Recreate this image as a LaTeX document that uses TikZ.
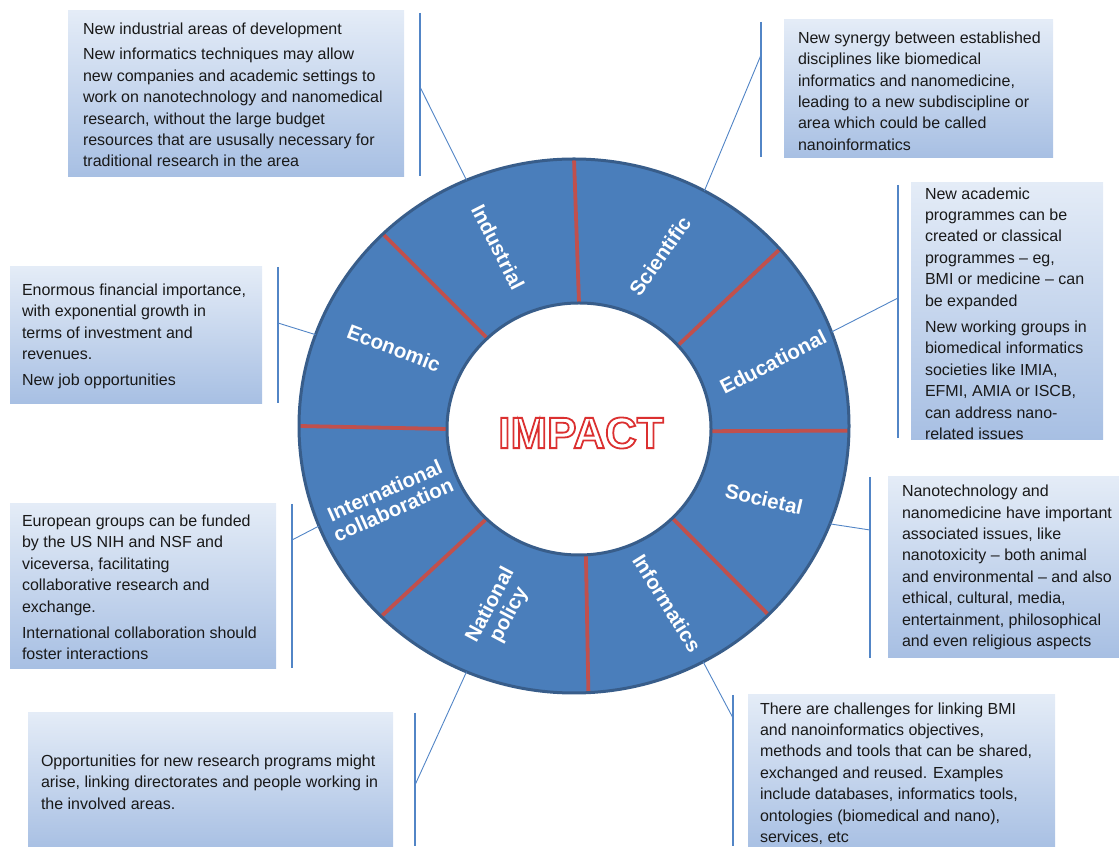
\documentclass[tikz,border=0pt]{standalone}
\usepackage{fontspec}
\setmainfont{Liberation Sans}
\usetikzlibrary{calc}
\definecolor{ringblue}{HTML}{4A7EBB}
\definecolor{ringedge}{HTML}{385D8A}
\definecolor{divred}{HTML}{C0504D}
\definecolor{callblue}{HTML}{5285C6}
\definecolor{boxtop}{HTML}{E4ECF7}
\definecolor{boxbot}{HTML}{A7BFE3}
\newcommand{\outlined}[1]{\special{pdf:literal direct 1 Tr 1.8 w 0.86 0.19 0.19 RG}#1\special{pdf:literal direct 0 Tr}}
\begin{document}
\begin{tikzpicture}[x=1pt,y=1pt,
	infobox/.style={top color=boxtop,bottom color=boxbot,inner sep=0pt},
	infotext/.style={anchor=west,inner sep=0pt,align=left,text=black!90,font=\fontsize{16}{21.4}\selectfont},
	seglabel/.style={text=white,align=center,font=\fontsize{20.5}{21}\selectfont\bfseries\addfontfeatures{Ligatures=NoCommon}},
	callbar/.style={callblue,line width=1.4pt},
	callline/.style={callblue,line width=0.9pt},
	divider/.style={divred,line width=3.8pt}]
	\useasboundingbox (0,0) rectangle (1119,846);
	\coordinate (oc) at (574,420);
	\coordinate (ic) at (579,417);
	\fill[ringblue] (oc) ellipse [x radius=275,y radius=267];
	\fill[white] (ic) ellipse [x radius=132,y radius=126];
	\draw[divider] ($(ic)+(90:132 and 126)$) -- ($(oc)+(90:275 and 267)$);
	\draw[divider] ($(ic)+(41.5:132 and 126)$) -- ($(oc)+(41.5:275 and 267)$);
	\draw[divider] ($(ic)+(-1:132 and 126)$) -- ($(oc)+(-1:275 and 267)$);
	\draw[divider] ($(ic)+(-45:132 and 126)$) -- ($(oc)+(-45:275 and 267)$);
	\draw[divider] ($(ic)+(-87:132 and 126)$) -- ($(oc)+(-87:275 and 267)$);
	\draw[divider] ($(ic)+(-134.5:132 and 126)$) -- ($(oc)+(-134.5:275 and 267)$);
	\draw[divider] ($(ic)+(180:132 and 126)$) -- ($(oc)+(180:275 and 267)$);
	\draw[divider] ($(ic)+(134:132 and 126)$) -- ($(oc)+(134:275 and 267)$);
	\draw[ringedge,line width=3pt] (oc) ellipse [x radius=275,y radius=267];
	\draw[ringedge,line width=3pt] (ic) ellipse [x radius=132,y radius=126];
	\node (impact) at (581,413) {\fontsize{44}{44}\selectfont\bfseries\outlined{IMPACT}};
	\node[seglabel,rotate=-63] (industrial) at (498,599) {Industrial};
	\node[seglabel,rotate=55] (scientific) at (660,590) {Scientific};
	\node[seglabel,rotate=27] (educational) at (773,484) {Educational};
	\node[seglabel,rotate=-13] (societal) at (764,347) {Societal};
	\node[seglabel,rotate=-58] (informatics) at (667,243) {Informatics};
	\node[seglabel,rotate=62] (national) at (500,236) {National\\policy};
	\node[seglabel,rotate=24] (international) at (389,346) {International\\collaboration};
	\node[seglabel,rotate=-21] (economic) at (394,498) {Economic};

	\node[infobox,minimum width=336pt,minimum height=166pt] (indbox) at (236,752) {};
	\node[infotext] (indtext) at ($(indbox.west)+(15,-1)$) {New industrial areas of development\\[4pt]
		New informatics techniques may allow\\ new companies and academic settings to\\ work on nanotechnology and nanomedical\\ research, without the large budget\\ resources that are ususally necessary for\\ traditional research in the area};
	\node[infobox,minimum width=269pt,minimum height=138pt] (scibox) at (918.5,757) {};
	\node[infotext] (scitext) at ($(scibox.west)+(14,-2)$) {New synergy between established\\ disciplines like biomedical\\ informatics and nanomedicine,\\ leading to a new subdiscipline or\\ area which could be called\\ nanoinformatics};
	\node[infobox,minimum width=192pt,minimum height=257pt] (edubox) at (1007,534.5) {};
	\node[infotext] (edutext) at ($(edubox.west)+(14,-2)$) {New academic\\ programmes can be\\ created or classical\\ programmes – eg,\\ BMI or medicine – can\\ be expanded\\[5pt]
		New working groups in\\ biomedical informatics\\ societies like IMIA,\\ EFMI, AMIA or ISCB,\\ can address nano-\\ related issues};
	\node[infobox,minimum width=231pt,minimum height=181pt] (socbox) at (1003.5,278.5) {};
	\node[infotext] (soctext) at ($(socbox.west)+(14,0)$) {Nanotechnology and\\ nanomedicine have important\\ associated issues, like\\ nanotoxicity – both animal\\ and environmental – and also\\ ethical, cultural, media,\\ entertainment, philosophical\\ and even religious aspects};
	\node[infobox,minimum width=307pt,minimum height=157pt] (infbox) at (901.5,72.5) {};
	\node[infotext] (inftext) at ($(infbox.west)+(12,0)$) {There are challenges for linking BMI\\ and nanoinformatics objectives,\\ methods and tools that can be shared,\\ exchanged and reused. Examples\\ include databases, informatics tools,\\ ontologies (biomedical and nano),\\ services, etc};
	\node[infobox,minimum width=365pt,minimum height=138pt] (natbox) at (210.5,64) {};
	\node[infotext] (nattext) at ($(natbox.west)+(13,0)$) {Opportunities for new research programs might\\ arise, linking directorates and people working in\\ the involved areas.};
	\node[infobox,minimum width=266pt,minimum height=165pt] (intbox) at (143,259.5) {};
	\node[infotext] (inttext) at ($(intbox.west)+(12,-1)$) {European groups can be funded\\ by the US NIH and NSF and\\ viceversa, facilitating\\ collaborative research and\\ exchange.\\[5pt]
		International collaboration should\\ foster interactions};
	\node[infobox,minimum width=252pt,minimum height=137pt] (ecobox) at (136,510.5) {};
	\node[infotext] (ecotext) at ($(ecobox.west)+(12,-1)$) {Enormous financial importance,\\ with exponential growth in\\ terms of investment and\\ revenues.\\[5pt]
		New job opportunities};

	\draw[callbar] (420,833) -- (420,670);
	\coordinate (indpin) at (420,759);
	\coordinate (indring) at ($(oc)+(113:275 and 267)$);
	\draw[callline] (indpin) -- (indring);
	\draw[callbar] (761,824) -- (761,689);
	\coordinate (scipin) at (761,791);
	\coordinate (sciring) at ($(oc)+(61.7:275 and 267)$);
	\draw[callline] (scipin) -- (sciring);
	\draw[callbar] (898,661) -- (898,408);
	\coordinate (edupin) at (898,548);
	\coordinate (eduring) at ($(oc)+(20.6:275 and 267)$);
	\draw[callline] (edupin) -- (eduring);
	\draw[callbar] (870,369) -- (870,188);
	\coordinate (socpin) at (870,316);
	\coordinate (socring) at ($(oc)+(-21.5:275 and 267)$);
	\draw[callline] (socpin) -- (socring);
	\draw[callbar] (733,151) -- (733,0);
	\coordinate (infpin) at (733,128);
	\coordinate (infring) at ($(oc)+(-62:275 and 267)$);
	\draw[callline] (infpin) -- (infring);
	\draw[callbar] (415,133) -- (415,0);
	\coordinate (natpin) at (415,61);
	\coordinate (natring) at ($(oc)+(-113:275 and 267)$);
	\draw[callline] (natpin) -- (natring);
	\draw[callbar] (292,342) -- (292,178);
	\coordinate (intpin) at (292,306);
	\coordinate (intring) at ($(oc)+(-158:275 and 267)$);
	\draw[callline] (intpin) -- (intring);
	\draw[callbar] (278,579) -- (278,443);
	\coordinate (ecopin) at (278,523);
	\coordinate (ecoring) at ($(oc)+(160:275 and 267)$);
	\draw[callline] (ecopin) -- (ecoring);
\end{tikzpicture}
\end{document}
